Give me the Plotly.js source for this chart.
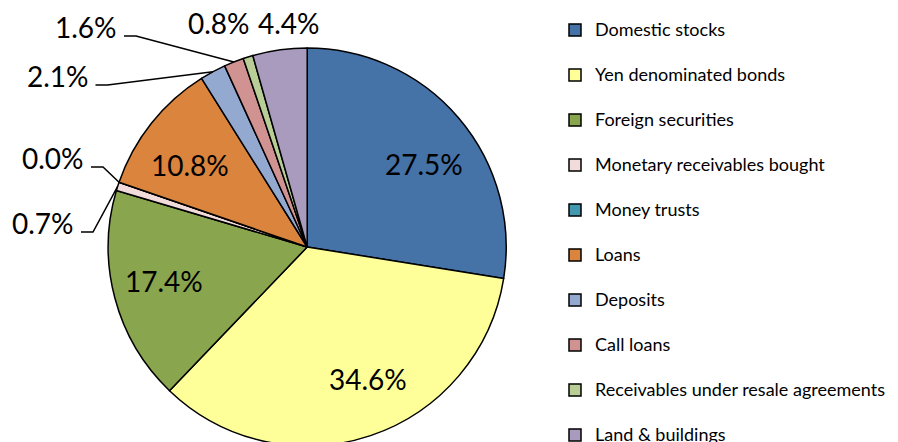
<!DOCTYPE html>
<html><head><meta charset="utf-8">
<script src="https://cdn.plot.ly/plotly-3.0.1.min.js"></script>
<style>html,body{margin:0;padding:0;overflow:hidden;background:#fff}#chart{width:898px;height:480px}</style>
</head><body><div id="chart"></div>
<script>
// ---- data ----
const categories = ["Domestic stocks","Yen denominated bonds","Foreign securities","Monetary receivables bought","Money trusts","Loans","Deposits","Call loans","Receivables under resale agreements","Land & buildings"];
const shares = [27.5, 34.6, 17.4, 0.7, 0.0, 10.8, 2.1, 1.6, 0.8, 4.4];
const sliceColors = ["#4572A7","#FFFF99","#89A54E","#F2DCDB","#4198AF","#DB843D","#93A9CF","#D19392","#B9CD96","#A99BBD"];
const pctLabels = shares.map(v => v.toFixed(1) + "%");

// ---- layout config ----
const W = 898, H = 480;
const CX = 307.2, CY = 247, R = 199;
const FONT = "Lato, 'Open Sans', sans-serif";
const placement = [
  {mode:"in", nudge:5, rf:0.72},
  {mode:"in", nudge:-6, rf:0.73},
  {mode:"in", nudge:1.4, rf:0.74},
  {mode:"out", px:43, py:223, leader:true},
  {mode:"out", px:53, py:158, leader:true},
  {mode:"in", nudge:-3.5, rf:0.72},
  {mode:"out", px:57.5, py:76, leader:true},
  {mode:"out", px:86, py:27, leader:true},
  {mode:"out", px:219, py:23, leader:false},
  {mode:"out", px:289, py:23, leader:false}
];

const total = shares.reduce((a,b)=>a+b,0);
let cum = 0;
const midAngles = shares.map(v => { const m = (cum + v/2) / total * 360; cum += v; return m; });
const toPx = (deg, r) => [CX + r*Math.sin(deg*Math.PI/180), CY - r*Math.cos(deg*Math.PI/180)];
const px2x = x => x / W, px2y = y => 1 - y / H;

const annotations = [], shapes = [];
placement.forEach((p, i) => {
  let lx, ly;
  if (p.mode === "in") {
    [lx, ly] = toPx(midAngles[i] + p.nudge, R * p.rf);
  } else {
    lx = p.px; ly = p.py;
    if (p.leader) {
      const sx = lx + 38, sy = ly + 9, ex = sx + 12;
      const [tx, ty] = toPx(midAngles[i], R);
      shapes.push({type:"path", xref:"paper", yref:"paper",
        path:`M${px2x(sx)},${px2y(sy)} L${px2x(ex)},${px2y(sy)} L${px2x(tx)},${px2y(ty)}`,
        line:{color:"#000", width:1.5}});
    }
  }
  annotations.push({text:pctLabels[i], x:px2x(lx), y:px2y(ly), xref:"paper", yref:"paper",
    showarrow:false, xanchor:"center", yanchor:"middle",
    font:{family:FONT, size:28, color:"#000"}});
});

const trace = {
  type:"pie",
  labels: categories.map(c => '<span style="font-size:18px">' + c + '</span><br> '),
  values: shares,
  sort:false, direction:"clockwise", rotation:0,
  textinfo:"none", hoverinfo:"label+percent",
  marker:{colors:sliceColors, line:{color:"#000", width:1.5}},
  domain:{x:[(CX-R)/W, (CX+R)/W], y:[1-(CY+R)/H, 1-(CY-R)/H]}
};

const layout = {
  width:W, height:H, margin:{l:0,r:0,t:0,b:0},
  paper_bgcolor:"#fff", showlegend:true,
  legend:{x:555/W, y:1-13/H, xanchor:"left", yanchor:"top", valign:"top",
    font:{family:FONT, size:16.15, color:"#000"}, traceorder:"normal", bgcolor:"rgba(0,0,0,0)"},
  annotations, shapes
};
Plotly.newPlot("chart", [trace], layout, {staticPlot:true, displayModeBar:false});
</script></body></html>
